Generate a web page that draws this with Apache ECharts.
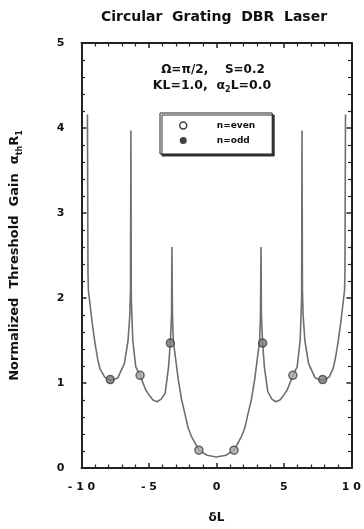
<!DOCTYPE html>
<html><head><meta charset="utf-8">
<script src="https://cdn.jsdelivr.net/npm/echarts@6/dist/echarts.min.js"></script>
<style>html,body{margin:0;padding:0;background:#fff}#c{width:364px;height:529px}</style>
</head><body><div id="c"></div>
<script>
// Curve samples (deltaL, normalized threshold gain)
var deltaL = [-9.56,-9.52,-9.49,-9.35,-9.2,-9.0,-8.8,-8.64,-8.28,-7.9,-7.31,-6.82,-6.55,-6.42,-6.37,-6.34,-6.31,-6.2,-5.98,-5.66,-5.25,-5.0,-4.7,-4.4,-4.1,-3.8,-3.55,-3.42,-3.33,-3.3,-3.26,-3.2,-2.95,-2.83,-2.58,-2.34,-2.1,-1.85,-1.3,-0.7,0.0,0.7,1.3,1.85,2.1,2.34,2.58,2.83,2.95,3.2,3.26,3.3,3.33,3.42,3.55,3.8,4.1,4.4,4.7,5.0,5.25,5.66,5.98,6.2,6.31,6.34,6.37,6.42,6.55,6.82,7.31,7.87,8.35,8.64,8.8,9.0,9.2,9.35,9.49,9.52,9.56];
var gain   = [4.16,2.3,2.09,1.9,1.7,1.47,1.28,1.17,1.07,1.03,1.06,1.23,1.5,1.8,2.1,3.97,2.0,1.5,1.19,1.09,0.92,0.86,0.8,0.78,0.81,0.88,1.19,1.47,1.8,2.6,1.8,1.5,1.19,1.04,0.8,0.64,0.47,0.37,0.21,0.15,0.13,0.15,0.21,0.37,0.47,0.64,0.8,1.04,1.19,1.5,1.8,2.6,1.8,1.47,1.19,0.9,0.81,0.78,0.8,0.86,0.92,1.09,1.19,1.5,2.0,3.97,2.1,1.8,1.5,1.23,1.06,1.03,1.07,1.17,1.28,1.47,1.7,1.9,2.09,2.3,4.16];
// Mode markers
var evenX = [-5.66,-1.3,1.3,5.66];
var evenY = [1.09,0.21,0.21,1.09];
var oddX  = [-7.87,-3.42,3.42,7.87];
var oddY  = [1.04,1.47,1.47,1.04];
// Tick labels
var xTickValues = [-10,-5,0,5,10];
var xTickLabels = ['- 1 0','- 5','0','5','1 0'];
var yTickValues = [0,1,2,3,4,5];
var yTickLabels = ['0','1','2','3','4','5'];

function zip(a,b){return a.map(function(v,i){return [v,b[i]];});}
var FONT = '"DejaVu Sans", Verdana, sans-serif';
function axisCommon(extra){
  return Object.assign({
    axisLine:{show:true,onZero:false,lineStyle:{color:'#222',width:2}},
    axisTick:{show:true,inside:true,length:5,lineStyle:{color:'#222',width:1.5}},
    minorTick:{show:true,splitNumber:5,length:3.5,lineStyle:{color:'#222',width:1.2}},
    splitLine:{show:false}
  },extra);
}
var chart = echarts.init(document.getElementById('c'),null,{renderer:'canvas'});
chart.setOption({
  animation:false,
  backgroundColor:'#fff',
  grid:{left:78,right:11,top:43,bottom:61},
  xAxis:[
    axisCommon({type:'value',min:-10,max:10,interval:5,position:'bottom',
      name:'δL',nameLocation:'middle',nameGap:44,
      nameTextStyle:{fontFamily:FONT,fontWeight:'bold',fontSize:12,color:'#111'},
      axisLabel:{margin:14,fontFamily:FONT,fontWeight:'bold',fontSize:11,color:'#111',
        formatter:function(v){var i=xTickValues.indexOf(v);return i>=0?xTickLabels[i]:'';}}}),
    axisCommon({type:'value',min:-10,max:10,interval:5,position:'top',axisLabel:{show:false}})
  ],
  yAxis:[
    axisCommon({type:'value',min:0,max:5,interval:1,position:'left',
      name:'{a|Normalized  Threshold  Gain  α}{s|th}{a|R}{s|1}',nameLocation:'middle',nameGap:58,
      nameTextStyle:{rich:{
        a:{fontFamily:FONT,fontWeight:'bold',fontSize:13,color:'#111',lineHeight:18,verticalAlign:'middle'},
        s:{fontFamily:FONT,fontWeight:'bold',fontSize:8,color:'#111',lineHeight:10,verticalAlign:'bottom'}}},
      axisLabel:{margin:17,fontFamily:FONT,fontWeight:'bold',fontSize:11,color:'#111',
        formatter:function(v){var i=yTickValues.indexOf(v);return i>=0?yTickLabels[i]:'';}}}),
    axisCommon({type:'value',min:0,max:5,interval:1,position:'right',axisLabel:{show:false}})
  ],
  legend:{
    orient:'vertical',left:160,top:113,
    padding:[8,17,9,19],itemGap:6,itemWidth:7,itemHeight:7,
    backgroundColor:'#fff',borderColor:'#222',borderWidth:1,
    shadowColor:'#333',shadowOffsetX:2,shadowOffsetY:2,shadowBlur:0,
    textStyle:{fontFamily:FONT,fontWeight:'bold',fontSize:9,color:'#111',padding:[0,0,0,25]},
    data:[
      {name:'n=even',icon:'circle',itemStyle:{color:'#fff',borderColor:'#111',borderWidth:1.5}},
      {name:'n=odd',icon:'circle',itemStyle:{color:'#111',borderWidth:0}}
    ]
  },
  graphic:[
    {type:'text',style:{x:214,y:17,text:'Circular  Grating  DBR  Laser',textAlign:'center',textVerticalAlign:'middle',
      font:'bold 14px '+FONT,fill:'#111'}},
    {type:'text',style:{x:213,y:70,text:'Ω=π/2,    S=0.2',textAlign:'center',textVerticalAlign:'middle',
      font:'bold 12px '+FONT,fill:'#111'}},
    {type:'text',style:{x:212,y:86,text:'{a|KL=1.0,  α}{s|2}{a|L=0.0}',textAlign:'center',textVerticalAlign:'middle',
      rich:{a:{fontFamily:FONT,fontWeight:'bold',fontSize:12.5,fill:'#111',lineHeight:15,verticalAlign:'middle'},
            s:{fontFamily:FONT,fontWeight:'bold',fontSize:8,fill:'#111',lineHeight:8,verticalAlign:'bottom'}}}}
  ],
  series:[
    {type:'line',data:zip(deltaL,gain),showSymbol:false,symbol:'none',
      lineStyle:{color:'#6f6f6f',width:1.6},z:2},
    {name:'n=even',type:'scatter',data:zip(evenX,evenY),symbol:'circle',symbolSize:8,
      itemStyle:{color:'#a8a8a8',borderColor:'#444',borderWidth:1.5},z:3},
    {name:'n=odd',type:'scatter',data:zip(oddX,oddY),symbol:'circle',symbolSize:8,
      itemStyle:{color:'#7a7a7a',borderColor:'#444',borderWidth:1.5},z:3}
  ]
});
</script></body></html>
